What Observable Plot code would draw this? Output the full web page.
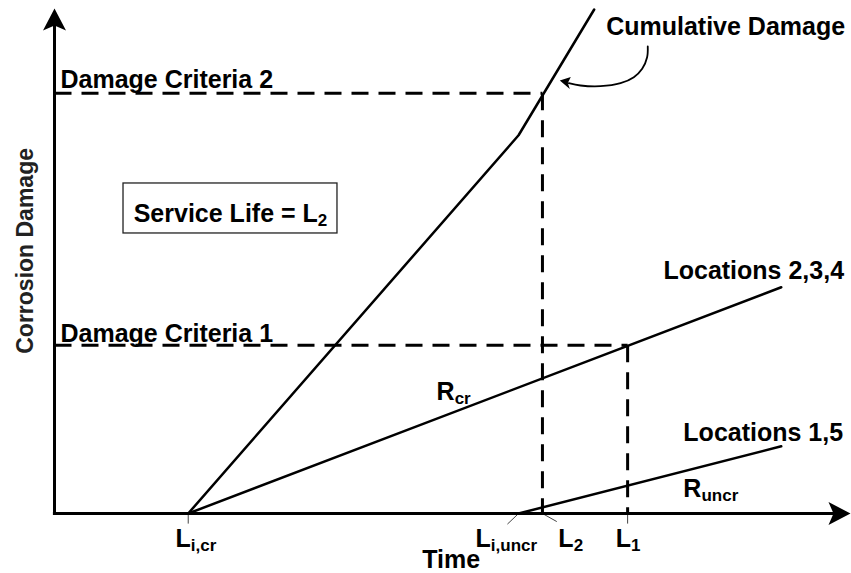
<!DOCTYPE html>
<html><head><meta charset="utf-8">
<script src="https://cdn.jsdelivr.net/npm/d3@7"></script>
<script src="https://cdn.jsdelivr.net/npm/@observablehq/plot@0.6"></script>
<style>body{margin:0;background:#fff} svg{display:block}</style>
</head><body><div id="chart"></div>
<script>
// ---- values (arbitrary time / damage units) ----
const criteriaNames  = ["Damage Criteria 1", "Damage Criteria 2"];
const criteriaLevels = [3.33, 8.32];
const criteriaTimes  = [7.2, 6.13];          // L1, L2

const cumTime   = [1.68, 5.83, 6.78];        // cumulative damage
const cumDamage = [0, 7.49, 9.98];
const crTime    = [1.68, 9.13];              // locations 2,3,4
const crDamage  = [0, 4.48];
const uncrTime  = [5.83, 9.13];              // locations 1,5
const uncrDamage= [0, 1.33];

const tickNames = ["L_{i,cr}", "L_{i,uncr}", "L_{2}", "L_{1}"];
const tickTimes = [1.68, 5.83, 6.13, 7.2];
const tickEndX  = [1.68, 5.69, 6.31, 7.2];
const tickEndY  = [-0.2, -0.21, -0.16, -0.2];
const tickLabelX = [1.52, 5.29, 6.33, 7.05];
const tickLabelY = -0.673;

const labelText = ["Damage Criteria 2", "Damage Criteria 1", "Cumulative Damage", "Locations 2,3,4", "Locations 1,5", "R_{cr}", "R_{uncr}", "Time"];
const labelX    = [0.075, 0.075, 6.93, 7.65, 7.9, 4.8, 7.9, 4.62];
const labelY    = [8.42, 3.39, 9.47, 4.65, 1.43, 2.24, 0.317, -1.07];

const boxText = "Service Life = L_{2}";
const boxX = [0.867, 3.555], boxY = [5.545, 6.535];

const yTitle = "Corrosion Damage";

const pointerX = [7.453, 7.445, 7.383, 7.278, 7.111, 6.859, 6.608, 6.461];
const pointerY = [9.248, 9.036, 8.806, 8.640, 8.521, 8.461, 8.475, 8.521];
const pointerTip = [6.348, 8.574];

// ---- arrowhead symbols ----
const upHead = {draw(c){c.moveTo(0,0);c.lineTo(11.5,22);c.lineTo(0,17);c.lineTo(-11.5,22);c.closePath();}};
const rightHead = {draw(c){c.moveTo(0,0);c.lineTo(-22,-11.5);c.lineTo(-17,0);c.lineTo(-22,11.5);c.closePath();}};
const pointerHead = {draw(c){c.moveTo(0,0);c.lineTo(11,-3.5);c.lineTo(8,2.5);c.lineTo(10,8.5);c.closePath();}};

const font = "Liberation Sans, Arial, Helvetica, sans-serif";
const pts = (xs, ys) => xs.map((x, i) => ({x, y: ys[i]}));
const dash = "17,10";
const fs = 25;

const chart = Plot.plot({
  width: 851, height: 573,
  marginLeft: 54, marginRight: 1, marginTop: 8, marginBottom: 60,
  x: {domain: [0, 10], axis: null},
  y: {domain: [0, 10], axis: null},
  style: {background: "#fff", fontFamily: font, overflow: "visible"},
  marks: [
    // box
    Plot.rect([0], {x1: boxX[0], x2: boxX[1], y1: boxY[0], y2: boxY[1], fill: "#fff", stroke: "#222", strokeWidth: 1.3}),
    Plot.text([boxText], {x: (boxX[0]+boxX[1])/2, y: 5.78, text: d => d, textAnchor: "middle", lineAnchor: "bottom", fontSize: fs, fontWeight: "bold", fontFamily: font, fill: "#000"}),
    // dashed criteria lines (horizontal from axis, vertical from level down)
    Plot.link(criteriaLevels, {x1: 0, y1: d => d, x2: (d, i) => criteriaTimes[i], y2: d => d, stroke: "#000", strokeWidth: 3, strokeDasharray: dash}),
    Plot.link(criteriaLevels, {x1: (d, i) => criteriaTimes[i], y1: d => d, x2: (d, i) => criteriaTimes[i], y2: 0, stroke: "#000", strokeWidth: 3, strokeDasharray: dash}),
    // ticks / leaders
    Plot.link(tickTimes, {x1: d => d, y1: 0, x2: (d, i) => tickEndX[i], y2: (d, i) => tickEndY[i], stroke: "#444", strokeWidth: 1}),
    // series
    Plot.line(pts(cumTime, cumDamage), {x: "x", y: "y", stroke: "#000", strokeWidth: 2.5}),
    Plot.line(pts(crTime, crDamage), {x: "x", y: "y", stroke: "#000", strokeWidth: 2.5}),
    Plot.line(pts(uncrTime, uncrDamage), {x: "x", y: "y", stroke: "#000", strokeWidth: 2.5}),
    // axes
    Plot.link([0], {x1: -0.02, y1: 0, x2: 9.8, y2: 0, stroke: "#000", strokeWidth: 3}),
    Plot.link([0], {x1: 0, y1: -0.03, x2: 0, y2: 9.7, stroke: "#000", strokeWidth: 3}),
    Plot.dot([0], {x: 0, y: 10, symbol: upHead, fill: "#000", stroke: "none"}),
    Plot.dot([0], {x: 10, y: 0, symbol: rightHead, fill: "#000", stroke: "none"}),
    // pointer
    Plot.line(pts(pointerX, pointerY), {x: "x", y: "y", curve: "catmull-rom", stroke: "#000", strokeWidth: 1.8}),
    Plot.dot([0], {x: pointerTip[0], y: pointerTip[1], symbol: pointerHead, fill: "#000", stroke: "none"}),
    // labels
    Plot.text(labelText, {x: (d, i) => labelX[i], y: (d, i) => labelY[i], text: d => d, textAnchor: "start", lineAnchor: "bottom", fontSize: fs, fontWeight: "bold", fontFamily: font, fill: "#000"}),
    Plot.text(tickNames, {x: (d, i) => tickLabelX[i], y: tickLabelY, text: d => d, textAnchor: "start", lineAnchor: "bottom", fontSize: fs, fontWeight: "bold", fontFamily: font, fill: "#000"}),
    Plot.text([yTitle], {x: -0.264, y: 5.2, text: d => d, rotate: -90, textAnchor: "middle", lineAnchor: "bottom", fontSize: 23, fontWeight: "bold", fontFamily: font, fill: "#222"})
  ]
});

// render "X_{sub}" as real subscripts
const NS = "http://www.w3.org/2000/svg";
chart.querySelectorAll("text").forEach(t => {
  const m = t.textContent.match(/^(.*)_\{(.*)\}$/);
  if (!m) return;
  t.textContent = "";
  const a = document.createElementNS(NS, "tspan"); a.textContent = m[1];
  const b = document.createElementNS(NS, "tspan"); b.textContent = m[2];
  b.setAttribute("font-size", "17"); b.setAttribute("dy", "4");
  t.append(a, b);
});
document.getElementById("chart").append(chart);
</script></body></html>
